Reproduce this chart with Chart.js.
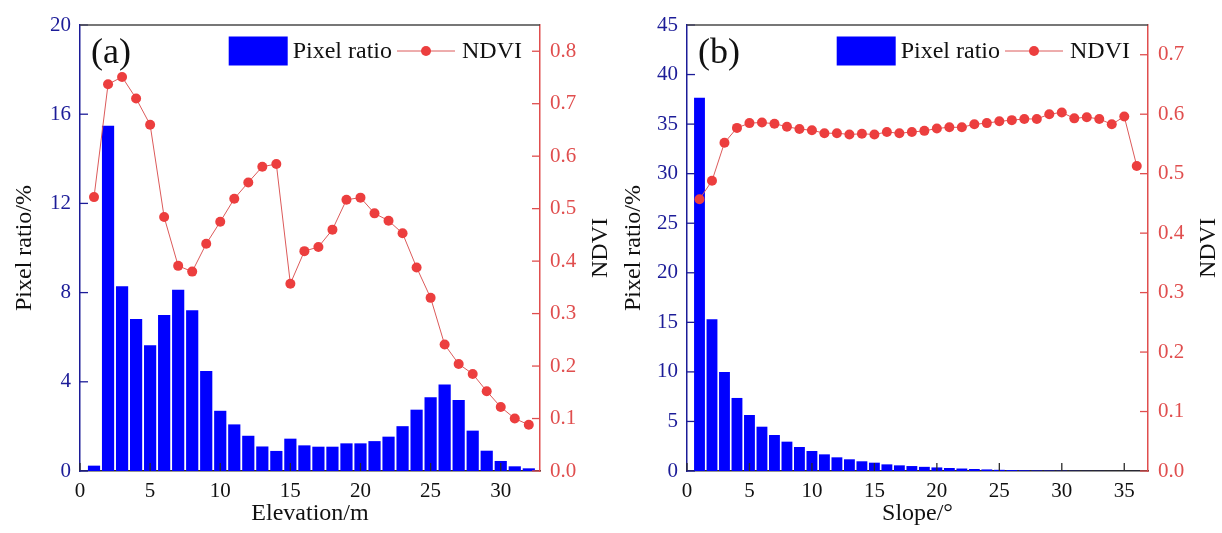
<!DOCTYPE html>
<html>
<head>
<meta charset="utf-8">
<title>Pixel ratio and NDVI by elevation and slope</title>
<script src="https://cdn.jsdelivr.net/npm/chart.js@4.4.1/dist/chart.umd.min.js"></script>
<style>
  html, body { margin: 0; padding: 0; background: #fff; }
  .panel { position: absolute; top: 0; width: 611px; height: 533px; }
  #panelA { left: 0; }
  #panelB { left: 611px; }
</style>
</head>
<body>
<div class="panel" id="panelA"><canvas id="chartA" width="611" height="533"></canvas></div>
<div class="panel" id="panelB"><canvas id="chartB" width="611" height="533"></canvas></div>
<script>
// Panel (a): elevation
const elevation = [1, 2, 3, 4, 5, 6, 7, 8, 9, 10, 11, 12, 13, 14, 15, 16,
  17, 18, 19, 20, 21, 22, 23, 24, 25, 26, 27, 28, 29, 30, 31, 32];
const pixelRatioA = [0.24, 15.48, 8.28, 6.82, 5.64, 7.0, 8.13, 7.21, 4.48, 2.70, 2.09, 1.58, 1.10, 0.90, 1.45, 1.15,
  1.09, 1.09, 1.24, 1.24, 1.34, 1.54, 2.01, 2.75, 3.31, 3.88, 3.18, 1.81, 0.91, 0.45, 0.21, 0.12];
const ndviA = [0.522, 0.737, 0.751, 0.710, 0.660, 0.484, 0.391, 0.380, 0.433, 0.475, 0.519, 0.550, 0.580, 0.585, 0.357, 0.419,
  0.427, 0.460, 0.517, 0.521, 0.491, 0.477, 0.453, 0.388, 0.330, 0.241, 0.204, 0.185, 0.152, 0.122, 0.100, 0.088];
const elevationTicks = [0, 5, 10, 15, 20, 25, 30];
const pixelTicksA = [0, 4, 8, 12, 16, 20];
const ndviTicksA = [0, 0.1, 0.2, 0.3, 0.4, 0.5, 0.6, 0.7, 0.8];

// Panel (b): slope
const slope = [1, 2, 3, 4, 5, 6, 7, 8, 9, 10, 11, 12, 13, 14, 15, 16, 17, 18,
  19, 20, 21, 22, 23, 24, 25, 26, 27, 28, 29, 30, 31, 32, 33, 34, 35, 36];
const pixelRatioB = [37.67, 15.30, 9.99, 7.37, 5.65, 4.47, 3.63, 2.96, 2.42, 2.02, 1.68, 1.38, 1.18, 0.98, 0.84, 0.67, 0.57, 0.50,
  0.42, 0.36, 0.30, 0.25, 0.20, 0.16, 0.12, 0.09, 0.07, 0.05, 0.04, 0.03, 0.02, 0.01, 0.01, 0.005, 0.005, 0.005];
const ndviB = [0.457, 0.488, 0.552, 0.577, 0.585, 0.586, 0.584, 0.579, 0.575, 0.573, 0.568, 0.568, 0.566, 0.567, 0.566, 0.570, 0.568, 0.570,
  0.572, 0.576, 0.578, 0.578, 0.583, 0.585, 0.588, 0.590, 0.592, 0.592, 0.600, 0.603, 0.593, 0.595, 0.592, 0.583, 0.596, 0.513];
const slopeTicks = [0, 5, 10, 15, 20, 25, 30, 35];
const pixelTicksB = [0, 5, 10, 15, 20, 25, 30, 35, 40, 45];
const ndviTicksB = [0, 0.1, 0.2, 0.3, 0.4, 0.5, 0.6, 0.7];

const FONT = '"Liberation Serif", "Times New Roman", serif';
const NAVY = '#1c1c98';
const RED = '#e04e4e';
const BAR_BLUE = '#0000ff';
const DOT_RED = '#ec3e3e';
const LINE_RED = '#dc5a5a';
const DARK = '#2a2a2a';

/**
 * Inward tick marks, top frame, right axis title, panel tag and legend
 */
const decorPlugin = {
  id: 'decor',
  afterDatasetsDraw(chart, args, opts) {
    const ctx = chart.ctx;
    const area = chart.chartArea;
    const {x, y, y1} = chart.scales;
    const len = 8;

    ctx.save();
    ctx.lineWidth = 1.3;

    // x ticks (pointing up into the plot)
    ctx.strokeStyle = DARK;
    x.ticks.forEach(t => {
      const px = x.getPixelForValue(t.value);
      ctx.beginPath();
      ctx.moveTo(px, area.bottom);
      ctx.lineTo(px, area.bottom - len);
      ctx.stroke();
    });

    // left ticks
    ctx.strokeStyle = NAVY;
    y.ticks.forEach(t => {
      const py = y.getPixelForValue(t.value);
      ctx.beginPath();
      ctx.moveTo(area.left, py);
      ctx.lineTo(area.left + len, py);
      ctx.stroke();
    });

    // right ticks
    ctx.strokeStyle = RED;
    y1.ticks.forEach(t => {
      const py = y1.getPixelForValue(t.value);
      ctx.beginPath();
      ctx.moveTo(area.right, py);
      ctx.lineTo(area.right - len, py);
      ctx.stroke();
    });

    // top frame
    ctx.strokeStyle = '#4a4a4a';
    ctx.lineWidth = 1.5;
    ctx.beginPath();
    ctx.moveTo(area.left, area.top);
    ctx.lineTo(area.right, area.top);
    ctx.stroke();

    // right axis title, read bottom to top like the left one
    ctx.fillStyle = '#111';
    ctx.font = `24px ${FONT}`;
    ctx.textAlign = 'center';
    ctx.textBaseline = 'middle';
    ctx.save();
    ctx.translate(area.right + 61, (area.top + area.bottom) / 2);
    ctx.rotate(-Math.PI / 2);
    ctx.fillText(opts.rightTitle, 0, 0);
    ctx.restore();

    // panel tag
    ctx.font = `36px ${FONT}`;
    ctx.textAlign = 'left';
    ctx.fillText(opts.tag, area.left + 11, area.top + 29);

    // legend, laid out from the right edge
    const barSet = chart.data.datasets[1];
    const lineSet = chart.data.datasets[0];
    const cy = area.top + 26;
    let cx = area.right - 18;
    ctx.font = `24px ${FONT}`;
    ctx.textAlign = 'right';
    ctx.fillText(lineSet.label, cx, cy + 1);
    cx -= ctx.measureText(lineSet.label).width + 7;
    ctx.strokeStyle = LINE_RED;
    ctx.lineWidth = 1;
    ctx.beginPath();
    ctx.moveTo(cx - 58, cy);
    ctx.lineTo(cx, cy);
    ctx.stroke();
    ctx.fillStyle = DOT_RED;
    ctx.beginPath();
    ctx.arc(cx - 29, cy, 5, 0, Math.PI * 2);
    ctx.fill();
    cx -= 63;
    ctx.fillStyle = '#111';
    ctx.fillText(barSet.label, cx, cy + 1);
    cx -= ctx.measureText(barSet.label).width + 5;
    ctx.fillStyle = BAR_BLUE;
    ctx.fillRect(cx - 59, cy - 14.5, 59, 29);

    ctx.restore();
  }
};

/**
 * One panel: bars on the left axis, NDVI line on the right axis
 */
function createPanel(canvasId, cfg) {
  const ctx = document.getElementById(canvasId);
  const fixTicks = list => scale => { scale.ticks = list.map(v => ({value: v})); };

  return new Chart(ctx, {
    data: {
      datasets: [
        {
          type: 'line',
          label: 'NDVI',
          data: cfg.xs.map((v, i) => ({x: v, y: cfg.ndvi[i]})),
          yAxisID: 'y1',
          borderColor: LINE_RED,
          borderWidth: 1,
          pointRadius: 5,
          pointBackgroundColor: DOT_RED,
          pointBorderWidth: 0,
          tension: 0,
          order: 0
        },
        {
          type: 'bar',
          label: 'Pixel ratio',
          data: cfg.xs.map((v, i) => ({x: v, y: cfg.pixel[i]})),
          yAxisID: 'y',
          backgroundColor: BAR_BLUE,
          borderWidth: 0,
          barPercentage: 0.87,
          categoryPercentage: 1,
          order: 1
        }
      ]
    },
    options: {
      responsive: false,
      animation: false,
      devicePixelRatio: 1,
      layout: {
        padding: {top: 25, left: 0, right: 0, bottom: 0}
      },
      plugins: {
        legend: {display: false},
        tooltip: {enabled: false},
        decor: {tag: cfg.tag, rightTitle: 'NDVI'}
      },
      scales: {
        x: {
          type: 'linear',
          min: 0,
          max: cfg.xMax,
          offset: false,
          afterBuildTicks: fixTicks(cfg.xTicks),
          afterFit: s => { s.height = 62; },
          grid: {display: false, drawTicks: false, offset: false},
          border: {display: true, color: DARK, width: 1.5},
          ticks: {
            font: {family: FONT, size: 21},
            color: '#111',
            padding: 8,
            maxRotation: 0,
            autoSkip: false
          },
          title: {
            display: true,
            text: cfg.xTitle,
            font: {family: FONT, size: 24},
            color: '#111',
            padding: {top: 0, bottom: 5}
          }
        },
        y: {
          position: 'left',
          min: 0,
          max: cfg.yMax,
          afterBuildTicks: fixTicks(cfg.yTicks),
          afterFit: s => { s.width = cfg.leftWidth; },
          grid: {display: false, drawTicks: false},
          border: {display: true, color: NAVY, width: 1.5},
          ticks: {
            font: {family: FONT, size: 21},
            color: NAVY,
            padding: 9
          },
          title: {
            display: true,
            text: 'Pixel ratio/%',
            font: {family: FONT, size: 24},
            color: '#111',
            padding: {top: cfg.titlePad, bottom: 0}
          }
        },
        y1: {
          position: 'right',
          min: 0,
          max: cfg.y1Max,
          afterBuildTicks: fixTicks(cfg.y1Ticks),
          afterFit: s => { s.width = cfg.rightWidth; },
          grid: {display: false, drawTicks: false},
          border: {display: true, color: RED, width: 1.5},
          ticks: {
            font: {family: FONT, size: 21},
            color: RED,
            padding: 10,
            callback: v => v.toFixed(1)
          }
        }
      }
    },
    plugins: [decorPlugin]
  });
}

createPanel('chartA', {
  tag: '(a)',
  xs: elevation,
  pixel: pixelRatioA,
  ndvi: ndviA,
  xMax: 32.8,
  xTicks: elevationTicks,
  xTitle: 'Elevation/m',
  yMax: 20,
  yTicks: pixelTicksA,
  y1Max: 0.85,
  y1Ticks: ndviTicksA,
  leftWidth: 80,
  rightWidth: 71,
  titlePad: 10
});

createPanel('chartB', {
  tag: '(b)',
  xs: slope,
  pixel: pixelRatioB,
  ndvi: ndviB,
  xMax: 36.9,
  xTicks: slopeTicks,
  xTitle: 'Slope/°',
  yMax: 45,
  yTicks: pixelTicksB,
  y1Max: 0.75,
  y1Ticks: ndviTicksB,
  leftWidth: 76,
  rightWidth: 74,
  titlePad: 8
});
</script>
</body>
</html>
